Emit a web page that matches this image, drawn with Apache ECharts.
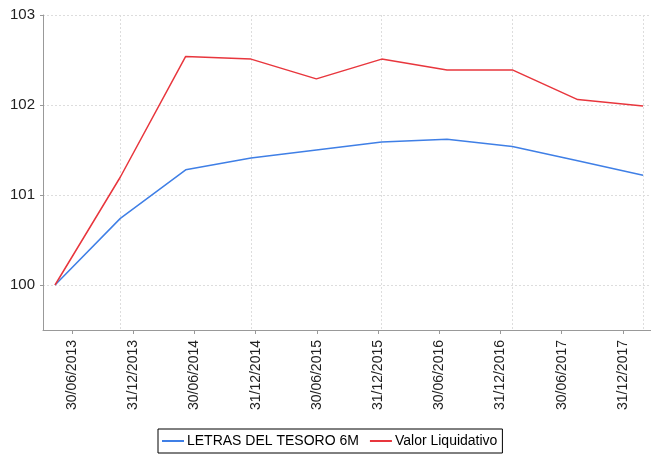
<!DOCTYPE html>
<html>
<head>
<meta charset="utf-8">
<script src="https://cdn.jsdelivr.net/npm/echarts@6/dist/echarts.min.js"></script>
<style>html,body{margin:0;padding:0;background:#fff}#c{width:651px;height:457px}</style>
</head>
<body>
<div id="c"></div>
<script>
var dates = ['30/06/2013','31/12/2013','30/06/2014','31/12/2014','30/06/2015','31/12/2015','30/06/2016','31/12/2016','30/06/2017','31/12/2017'];
var letras = [100.00, 100.74, 101.28, 101.41, 101.50, 101.59, 101.62, 101.54, 101.38, 101.22];
var valorLiq = [100.00, 101.20, 102.54, 102.51, 102.29, 102.51, 102.39, 102.39, 102.06, 101.99];
var yTicks = [100, 101, 102, 103];
var seriesNames = ['LETRAS DEL TESORO 6M', 'Valor Liquidativo'];

var idx = dates.map(function(d, i){ return i; });
var gridIdx = idx.filter(function(i){ return dates[i].indexOf('31/12') === 0; });

var chart = echarts.init(document.getElementById('c'), null, {renderer: 'canvas'});
var font = 'Liberation Sans, Arial, sans-serif';
chart.setOption({
  animation: false,
  backgroundColor: '#fff',
  grid: {left: 43, right: 0, top: 15, bottom: 127, containLabel: false},
  legend: {
    bottom: 4, left: 158,
    itemWidth: 22, itemHeight: 2, itemGap: 11,
    borderColor: '#000', borderWidth: 1, padding: [5, 5, 5, 4],
    icon: 'rect',
    textStyle: {fontFamily: font, fontSize: 14, color: '#000', padding: [0, 0, 0, -2]},
    data: seriesNames
  },
  xAxis: [{
    type: 'value', min: -0.184, max: 9.122,
    axisLine: {show: true, onZero: false, lineStyle: {color: '#999'}},
    axisTick: {show: false, customValues: gridIdx},
    axisLabel: {show: false, customValues: gridIdx},
    splitLine: {show: true, lineStyle: {color: '#ddd', type: [2, 2]}}
  }, {
    type: 'value', min: -0.474, max: 9.458, position: 'bottom',
    axisLine: {show: false, onZero: false},
    axisTick: {show: true, length: 4, customValues: idx, lineStyle: {color: '#999'}},
    axisLabel: {
      show: true, customValues: idx, rotate: 90, margin: 10,
      fontFamily: font, fontSize: 14, color: '#222',
      formatter: function(v){ return dates[Math.round(v)]; }
    },
    splitLine: {show: false}
  }],
  yAxis: {
    type: 'value', min: 99.5, max: 103,
    axisLine: {show: true, onZero: false, lineStyle: {color: '#999'}},
    axisTick: {show: true, length: 3, customValues: yTicks, lineStyle: {color: '#999'}},
    axisLabel: {customValues: yTicks, margin: 8, fontFamily: font, fontSize: 15, color: '#222'},
    splitLine: {show: true, lineStyle: {color: '#ddd', type: [2, 2]}}
  },
  series: [{
    name: seriesNames[0], type: 'line', xAxisIndex: 0,
    data: idx.map(function(i){ return [i, letras[i]]; }),
    symbol: 'none', lineStyle: {color: '#3f7fe6', width: 1.5}, itemStyle: {color: '#3f7fe6'}
  }, {
    name: seriesNames[1], type: 'line', xAxisIndex: 0,
    data: idx.map(function(i){ return [i, valorLiq[i]]; }),
    symbol: 'none', lineStyle: {color: '#e8363d', width: 1.5}, itemStyle: {color: '#e8363d'}
  }]
});
</script>
</body>
</html>
